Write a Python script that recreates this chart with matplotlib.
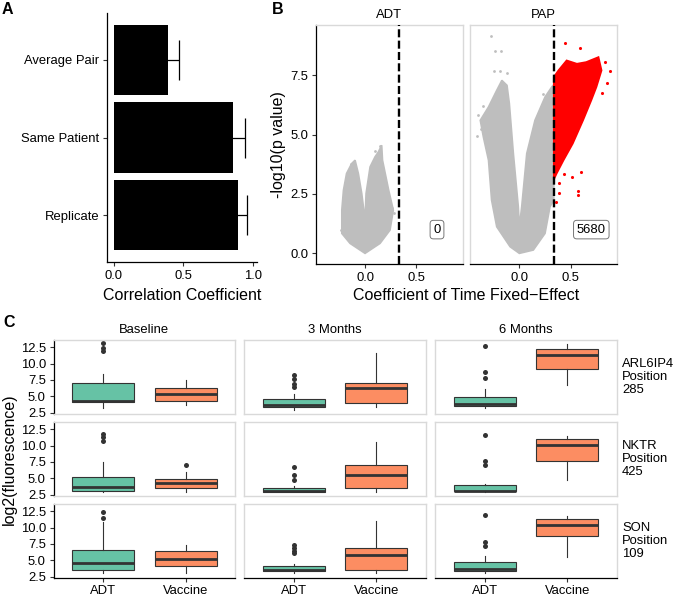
import matplotlib
matplotlib.use("Agg")
import matplotlib.pyplot as plt

plt.rcParams['font.family'] = ['Liberation Sans', 'DejaVu Sans']

W, H, DPI = 675, 597, 100
TICK_FS = 9.4
TITLE_FS = 11.5
STRIP_FS = 9.4
BORDER = '#D9D9D9'
CLOUD = '#BEBEBE'
ADT_COLOR = '#66C2A5'
VAC_COLOR = '#FC8D62'
BOX_EDGE = '#333333'

# ---------------- Panel A data ----------------
corr_categories = ["Replicate", "Same Patient", "Average Pair"]
corr_values = [0.895, 0.86, 0.39]
corr_errors = [0.06, 0.08, 0.075]
corr_ticks = [0.0, 0.5, 1.0]

# ---------------- Panel B data ----------------
volcano_facets = ["ADT", "PAP"]
effect_threshold = 0.335
significant_counts = ["0", "5680"]
volcano_yticks = [0.0, 2.5, 5.0, 7.5]
volcano_xticks = [0.0, 0.5]
# outline of the dense grey point cloud (ADT)
adt_cloud_x = [0.0, -0.146, -0.226, -0.226, -0.21, -0.18, -0.13, -0.097, -0.065, -0.032, 0.0,
               0.01, 0.049, 0.097, 0.13, 0.162, 0.17, 0.23, 0.275, 0.243, 0.146]
adt_cloud_y = [0.0, 0.42, 0.84, 1.82, 2.66, 3.36, 3.78, 3.92, 3.36, 2.52, 1.4,
               2.52, 3.64, 4.06, 4.27, 4.55, 3.92, 2.66, 1.82, 0.98, 0.42]
adt_sparse_x = [-0.14, -0.11, 0.10, 0.15, 0.28, 0.26, -0.23]
adt_sparse_y = [3.78, 3.85, 4.3, 4.5, 1.68, 1.9, 1.0]
# outline of the grey (non-significant) cloud (PAP)
pap_grey_x = [0.0, -0.09, -0.22, -0.27, -0.30, -0.35, -0.38, -0.30, -0.22, -0.17, -0.12, -0.097,
              -0.058, -0.01, 0.0, 0.023, 0.072, 0.152, 0.25, 0.315, 0.335, 0.335, 0.298, 0.25, 0.136]
pap_grey_y = [0.0, 0.28, 1.12, 2.24, 3.92, 4.9, 5.6, 6.16, 6.86, 7.28, 7.07, 6.3,
              4.2, 1.96, 1.12, 1.96, 4.2, 5.6, 6.58, 7.0, 7.1, 2.24, 1.96, 0.84, 0.14]
pap_grey_sparse_x = [-0.28, -0.24, -0.18, -0.25, -0.19, -0.12, -0.35, -0.41, -0.37, 0.12, 0.23, -0.40]
pap_grey_sparse_y = [9.14, 8.51, 8.51, 7.66, 7.66, 7.57, 6.2, 4.93, 5.25, 4.9, 6.72, 5.81]
# outline of the red (significant) cloud (PAP)
pap_red_x = [0.335, 0.363, 0.43, 0.52, 0.62, 0.70, 0.75, 0.80, 0.77, 0.65, 0.56, 0.46, 0.38, 0.335]
pap_red_y = [3.1, 3.36, 3.92, 4.62, 5.6, 6.44, 7.0, 7.7, 8.26, 8.05, 7.98, 8.12, 7.7, 7.42]
pap_red_sparse_x = [0.44, 0.59, 0.83, 0.88, 0.85, 0.80, 0.51, 0.60, 0.39, 0.39, 0.57, 0.57, 0.355, 0.43]
pap_red_sparse_y = [8.85, 8.65, 8.05, 7.66, 7.17, 6.75, 3.22, 3.43, 2.97, 2.52, 2.63, 2.45, 2.17, 3.36]

# ---------------- Panel C data ----------------
genes = ["ARL6IP4\nPosition\n285", "NKTR\nPosition\n425", "SON\nPosition\n109"]
timepoints = ["Baseline", "3 Months", "6 Months"]
groups = ["ADT", "Vaccine"]
box_yticks = [2.5, 5.0, 7.5, 10.0, 12.5]
# [whisker low, Q1, median, Q3, whisker high] per gene (row) x timepoint (column)
adt_box_stats = [
    [[3.17, 4.05, 4.26, 7.0, 8.35], [2.91, 3.38, 3.69, 4.52, 5.35], [3.12, 3.54, 3.8, 4.88, 6.13]],
    [[2.9, 3.05, 3.7, 5.26, 7.45], [2.88, 2.95, 3.08, 3.44, 3.8], [2.88, 3.0, 3.1, 3.96, 4.17]],
    [[3.0, 3.53, 4.55, 6.6, 10.9], [3.0, 3.37, 3.53, 4.19, 4.45], [3.0, 3.42, 3.63, 4.8, 5.58]],
]
adt_outliers = [
    [[13.12, 12.34, 11.98], [8.2, 7.68, 6.9, 6.39], [12.7, 8.72, 7.78]],
    [[11.77, 11.3, 10.73], [6.67, 5.57, 4.74], [11.56, 7.7, 7.03]],
    [[12.35, 11.42], [7.32, 6.86, 6.45, 6.09], [12.0, 7.73, 7.22]],
]
vaccine_box_stats = [
    [[3.69, 4.26, 5.35, 6.28, 7.42], [3.28, 3.9, 6.23, 7.06, 11.67], [6.75, 9.18, 11.36, 12.24, 12.97]],
    [[2.9, 3.54, 4.32, 4.95, 6.0], [2.9, 3.49, 5.52, 6.98, 10.52], [4.79, 7.6, 10.16, 10.99, 11.46]],
    [[3.0, 4.04, 5.17, 6.35, 7.37], [3.0, 3.53, 5.83, 6.8, 11.06], [5.47, 8.65, 10.35, 11.32, 11.73]],
]
vaccine_outliers = [
    [[], [], []],
    [[7.08], [], []],
    [[], [], []],
]

fig = plt.figure(figsize=(W / DPI, H / DPI), dpi=DPI)


def add_ax(l, t, r, b):
    return fig.add_axes([l / W, 1 - b / H, (r - l) / W, (b - t) / H])


def ftext(x, y, s, **kw):
    fig.text(x / W, 1 - y / H, s, **kw)


def style_panel(ax, left_axis, bottom_axis, border=True):
    for side, sp in ax.spines.items():
        sp.set_color(BORDER)
        sp.set_linewidth(1.0)
        sp.set_visible(border)
    ax.tick_params(length=3, width=0.8, color='#333333', labelsize=TICK_FS, pad=2.5,
                   labelcolor='black')
    if left_axis:
        ax.spines['left'].set_visible(True)
        ax.spines['left'].set_color('black')
        ax.spines['left'].set_linewidth(0.9)
    else:
        ax.tick_params(axis='y', left=False, labelleft=False)
    if bottom_axis:
        ax.spines['bottom'].set_visible(True)
        ax.spines['bottom'].set_color('black')
        ax.spines['bottom'].set_linewidth(0.9)
    else:
        ax.tick_params(axis='x', bottom=False, labelbottom=False)


# ================= Panel A =================
axA = add_ax(107, 13, 257, 262)
ypos = list(range(1, len(corr_categories) + 1))
axA.errorbar(corr_values, ypos, xerr=corr_errors, fmt='none', ecolor='black',
             elinewidth=0.9, capsize=14.4, capthick=0.9, zorder=1)
axA.barh(ypos, corr_values, height=0.9, color='black', zorder=2)
axA.set_xlim(-0.05, 1.03)
axA.set_ylim(0.4, 3.6)
axA.set_yticks(ypos)
axA.set_yticklabels(corr_categories)
axA.set_xticks(corr_ticks)
axA.set_xticklabels([f"{v:.1f}" for v in corr_ticks])
style_panel(axA, True, True, border=False)
ftext(182, 296, "Correlation Coefficient", ha='center', va='center', fontsize=TITLE_FS)
ftext(2, 2, "A", ha='left', va='top', fontsize=TITLE_FS, fontweight='bold')

# ================= Panel B =================
b_lefts = [315.7, 470.0]
b_width = 147.0
for i, facet in enumerate(volcano_facets):
    l = b_lefts[i]
    ax = add_ax(l, 25, l + b_width, 264.3)
    ax.set_xlim(-0.48, 0.95)
    ax.set_ylim(-0.46, 9.61)
    if facet == "ADT":
        ax.fill(adt_cloud_x, adt_cloud_y, facecolor=CLOUD, edgecolor=CLOUD, lw=1.2, zorder=2)
        ax.scatter(adt_sparse_x, adt_sparse_y, s=4, color=CLOUD, lw=0, zorder=2)
    else:
        ax.fill(pap_grey_x, pap_grey_y, facecolor=CLOUD, edgecolor=CLOUD, lw=1.2, zorder=2)
        ax.scatter(pap_grey_sparse_x, pap_grey_sparse_y, s=4, color=CLOUD, lw=0, zorder=2)
        ax.fill(pap_red_x, pap_red_y, facecolor='red', edgecolor='red', lw=1.2, zorder=3)
        ax.scatter(pap_red_sparse_x, pap_red_sparse_y, s=5, color='red', lw=0, zorder=3)
    ax.axvline(effect_threshold, color='black', lw=1.7, dashes=(3.4, 1.4), zorder=4)
    ax.text(0.70, 1.0, significant_counts[i], ha='center', va='center', fontsize=TICK_FS,
            bbox=dict(boxstyle='round,pad=0.25,rounding_size=0.25', fc='white', ec='#777777', lw=0.7),
            zorder=5)
    ax.set_xticks(volcano_xticks)
    ax.set_xticklabels([f"{v:.1f}" for v in volcano_xticks])
    ax.set_yticks(volcano_yticks)
    ax.set_yticklabels([f"{v:.1f}" for v in volcano_yticks])
    style_panel(ax, i == 0, True)
    ftext(l + b_width / 2, 15, facet, ha='center', va='center', fontsize=STRIP_FS)
ftext(278, 145, "-log10(p value)", ha='center', va='center', rotation=90, fontsize=TITLE_FS)
ftext(466, 296, "Coefficient of Time Fixed\u2212Effect", ha='center', va='center', fontsize=TITLE_FS)
ftext(272, 2, "B", ha='left', va='top', fontsize=TITLE_FS, fontweight='bold')

# ================= Panel C =================
c_lefts = [53.5, 244.3, 435.0]
c_width = 181.7
c_tops = [340.0, 422.0, 504.0]
c_height = 73.5
for r, gene in enumerate(genes):
    for c, tp in enumerate(timepoints):
        l = c_lefts[c]
        t = c_tops[r]
        ax = add_ax(l, t, l + c_width, t + c_height)
        stats = []
        for g, (bs, fl) in enumerate([(adt_box_stats, adt_outliers),
                                      (vaccine_box_stats, vaccine_outliers)]):
            wl, q1, med, q3, wh = bs[r][c]
            stats.append(dict(whislo=wl, q1=q1, med=med, q3=q3, whishi=wh,
                              fliers=fl[r][c], label=groups[g]))
        bp = ax.bxp(stats, positions=[1, 2], widths=0.75, patch_artist=True, showcaps=False,
                    boxprops=dict(edgecolor=BOX_EDGE, linewidth=0.8),
                    medianprops=dict(color=BOX_EDGE, linewidth=2.0, solid_capstyle='butt'),
                    whiskerprops=dict(color=BOX_EDGE, linewidth=0.8),
                    flierprops=dict(marker='o', markersize=3.6, markerfacecolor=BOX_EDGE,
                                    markeredgecolor='none'))
        for patch, col in zip(bp['boxes'], [ADT_COLOR, VAC_COLOR]):
            patch.set_facecolor(col)
        ax.set_xlim(0.4, 2.6)
        ax.set_ylim(2.35, 13.62)
        ax.set_yticks(box_yticks)
        ax.set_yticklabels([f"{v:.1f}" for v in box_yticks])
        ax.set_xticks([1, 2])
        ax.set_xticklabels(groups)
        style_panel(ax, c == 0, r == len(genes) - 1)
        if r == 0:
            ftext(l + c_width / 2, 330, tp, ha='center', va='center', fontsize=STRIP_FS)
        if c == len(timepoints) - 1:
            ftext(622, t + c_height / 2, gene, ha='left', va='center', fontsize=STRIP_FS,
                  linespacing=1.1)
ftext(9, 459, "log2(fluorescence)", ha='center', va='center', rotation=90, fontsize=TITLE_FS)
ftext(3, 315, "C", ha='left', va='top', fontsize=TITLE_FS, fontweight='bold')

fig.savefig("out.png", dpi=DPI)
